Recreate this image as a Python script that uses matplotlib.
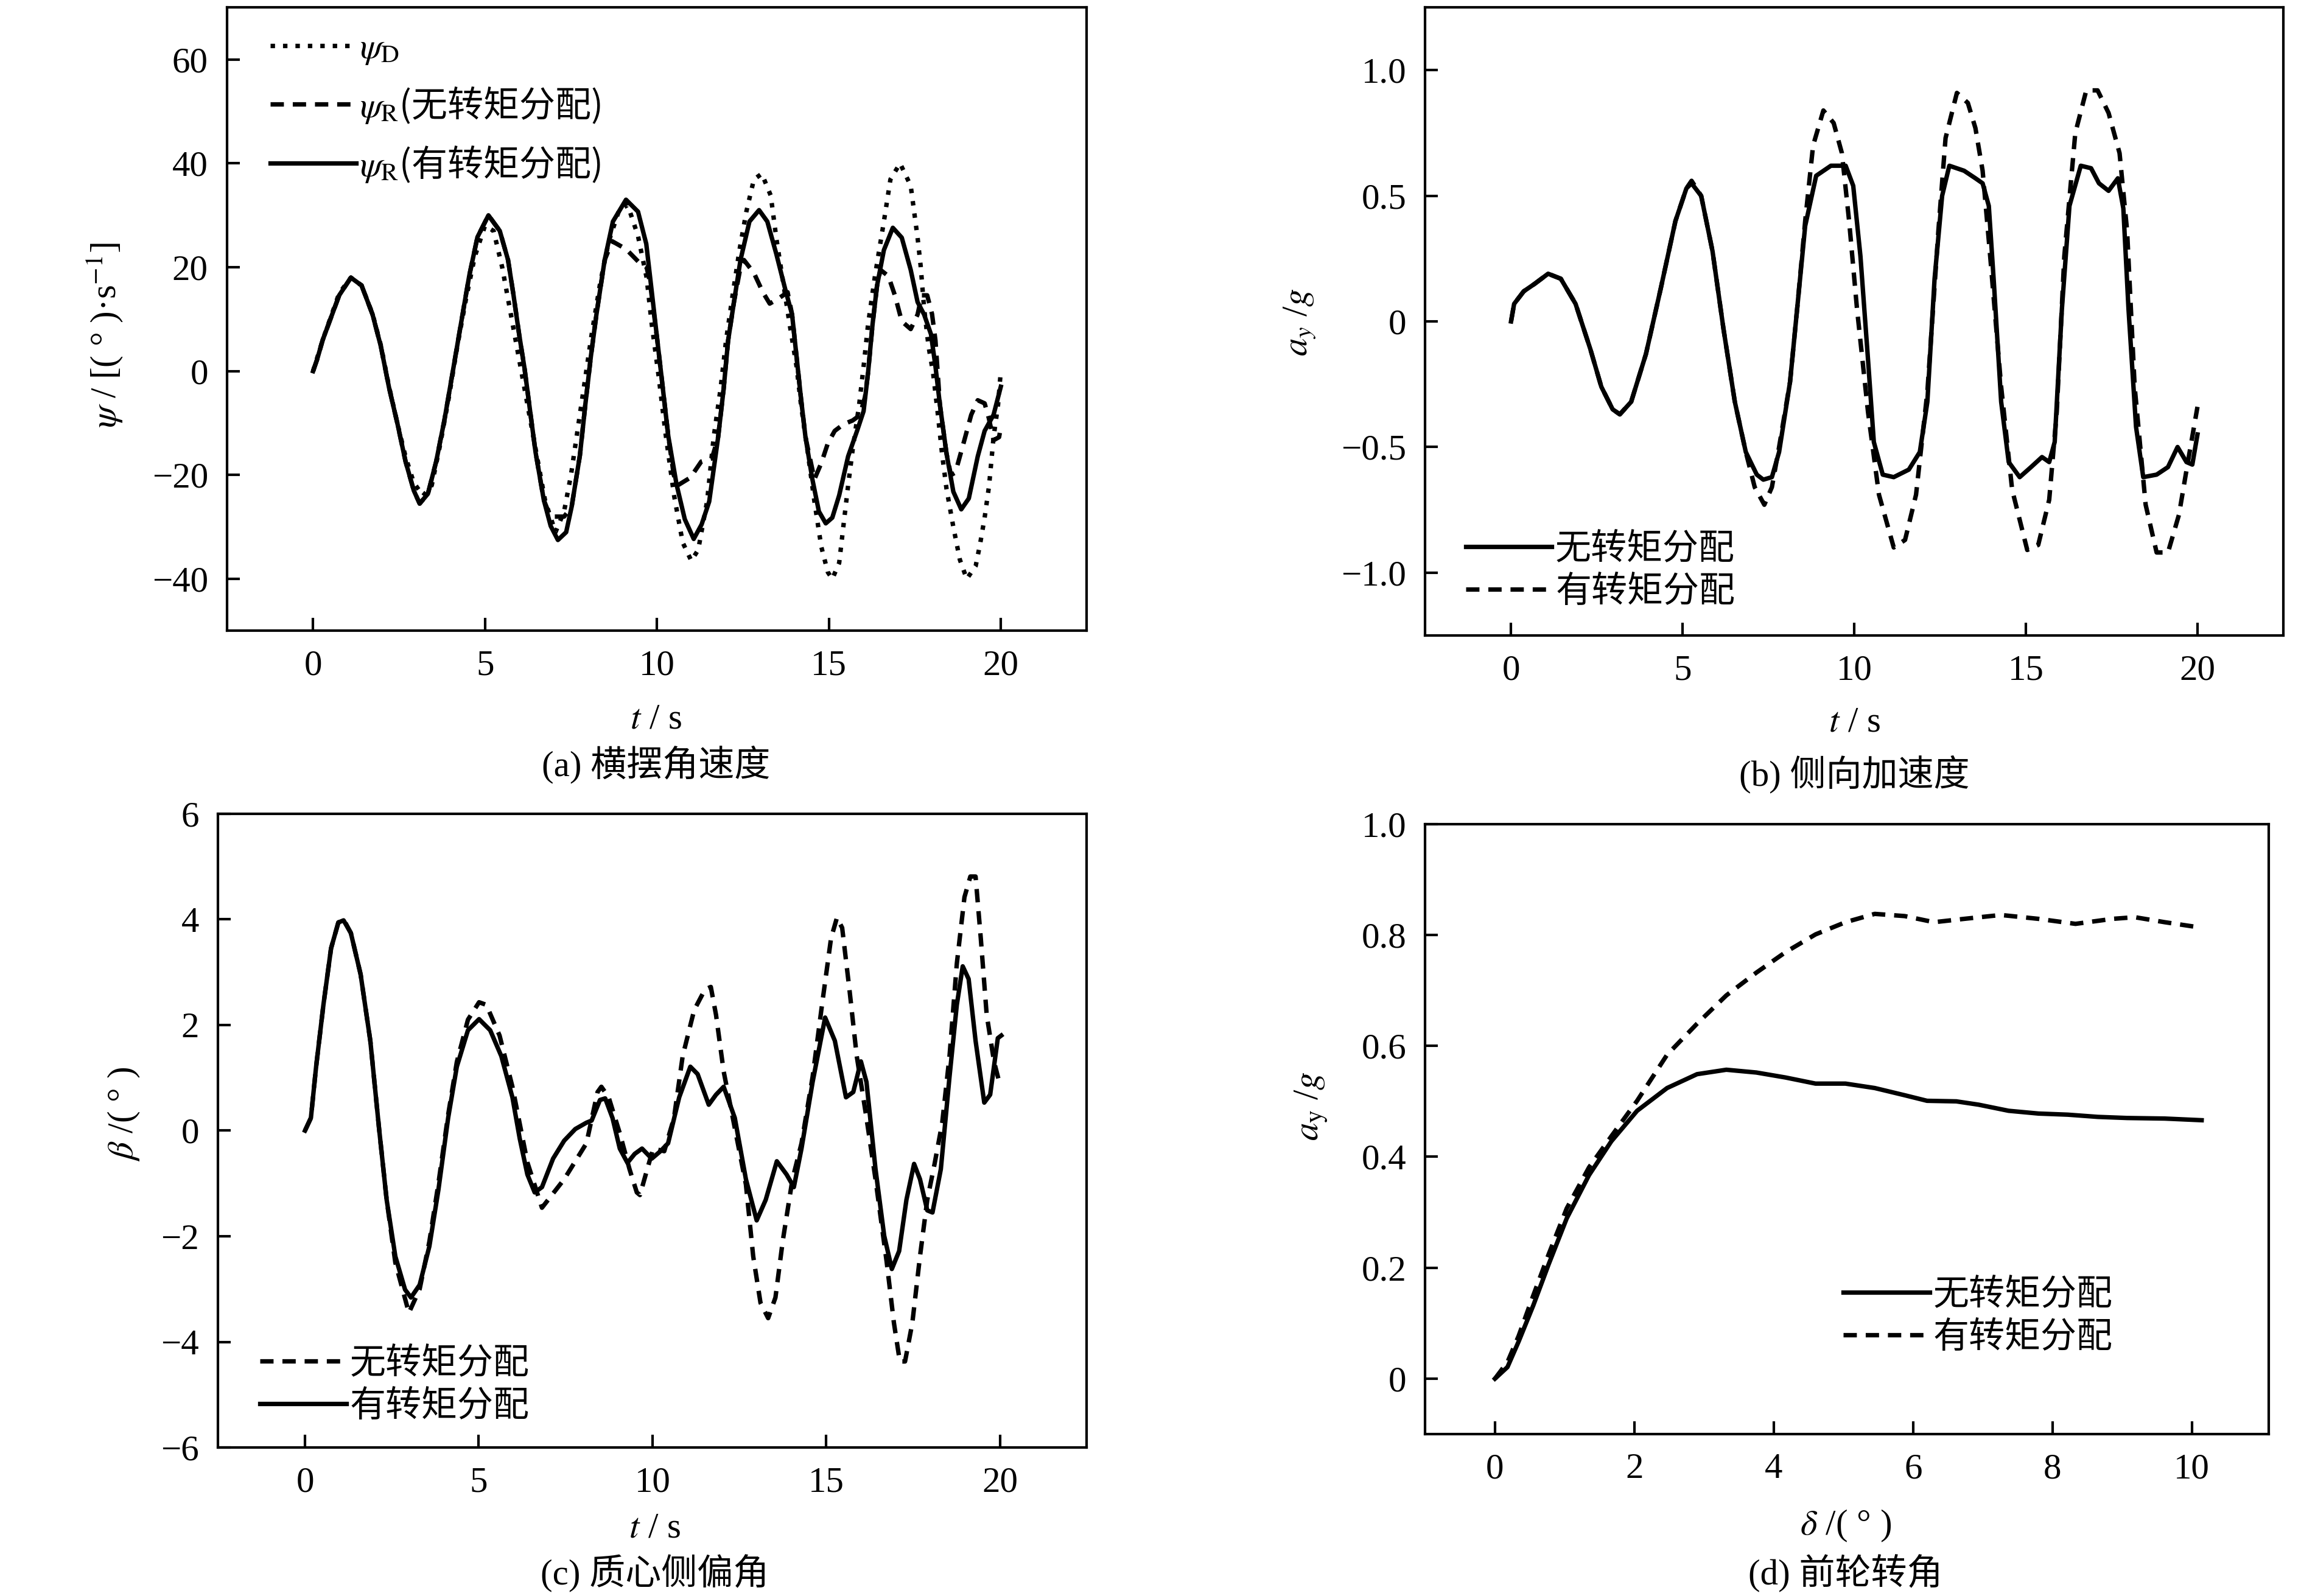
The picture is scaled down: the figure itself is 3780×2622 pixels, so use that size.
import numpy as np
import matplotlib
matplotlib.use("Agg")
import matplotlib.pyplot as plt

plt.rcParams['font.family'] = ['Liberation Serif', 'Noto Sans CJK SC']
plt.rcParams['mathtext.fontset'] = 'stix'
plt.rcParams['axes.unicode_minus'] = True

FS = 17

# ---------------- (a) 横摆角速度 ----------------
a_t_r1 = [0, 0.12, 0.28, 0.52, 0.76, 1.1, 1.41, 1.73, 1.97, 2.21, 2.45, 2.69, 2.93, 3.1, 3.34, 3.58,
          3.82, 4.06, 4.3, 4.54, 4.78, 5.1, 5.43, 5.67, 5.83, 5.99, 6.15, 6.31, 6.47, 6.71, 6.91, 7.12,
          7.36, 7.52, 7.76, 7.92, 8.08, 8.24, 8.48, 8.72, 9.1, 9.45, 9.69, 9.85, 10.01, 10.17, 10.33,
          10.57, 10.81, 11.07, 11.3, 11.52, 11.78, 11.94, 12.07, 12.24, 12.43, 12.69, 12.97, 13.21,
          13.47, 13.73, 13.93, 14.06, 14.19, 14.32, 14.52, 14.71, 14.91, 15.1, 15.3, 15.56, 15.82,
          16.01, 16.14, 16.27, 16.4, 16.6, 16.86, 17.12, 17.38, 17.58, 17.77, 17.97, 18.1, 18.23,
          18.42, 18.62, 18.85, 19.07, 19.33, 19.53, 19.79, 20.0]
a_psi_r1 = [0, 2.3, 6, 10.3, 14.6, 18, 16.5, 10.9, 4.8, -3.2, -10, -17.4, -23, -25.5, -23.6, -17.4,
            -9.4, -0.2, 9.1, 18.3, 25.8, 30, 27, 21.4, 14.6, 7.2, 0.5, -7.6, -15.6, -24.8, -29.8, -32.5,
            -31, -26.1, -16.2, -6.3, 2.9, 10.9, 21.4, 28.8, 33, 30.7, 24.5, 15.3, 6, -3.2, -12.5,
            -21.8, -28.5, -32.3, -29.5, -25.1, -12.7, -3.4, 5.9, 13.3, 21.4, 28.8, 31, 28.8,
            22.6, 15.8, 10.9, 2.8, -5.3, -12.7, -20.8, -27, -29.3, -28.2, -23.9, -16.4, -11.5,
            -7.7, -0.3, 9, 16.4, 23.3, 27.6, 25.7, 19.5, 13.3, 10.9, 7.1, 0.9, -6.5,
            -15.8, -23.2, -26.6, -24.5, -16.4, -11.5, -8.4, -3.0]

a_t_r0 = [0, 0.12, 0.28, 0.52, 0.76, 1.1, 1.41, 1.73, 1.97, 2.21, 2.45, 2.69, 2.93, 3.1, 3.34, 3.58,
          3.82, 4.06, 4.3, 4.54, 4.78, 5.1, 5.43, 5.67, 5.83, 5.99, 6.15, 6.31, 6.47, 6.71, 6.9, 7.3,
          7.52, 7.76, 7.92, 8.08, 8.24, 8.48, 8.7, 9.1, 9.5, 9.7, 9.8, 10.01, 10.17, 10.33, 10.49,
          10.6, 10.97, 11.29, 11.6, 11.78, 11.94, 12.07, 12.24, 12.43, 12.53, 12.82, 13.08, 13.28,
          13.54, 13.8, 13.93, 14.06, 14.19, 14.32, 14.58, 14.78, 14.97, 15.17, 15.43, 15.69, 15.9,
          16.05, 16.14, 16.27, 16.4, 16.5, 16.73, 16.92, 17.12, 17.38, 17.58, 17.7, 17.86, 18.0,
          18.1, 18.23, 18.42, 18.55, 18.68, 18.94, 19.14, 19.33, 19.53, 19.65, 19.79, 19.95, 20.0]
a_psi_r0 = [0, 2.3, 6, 10.3, 14.6, 18, 16.5, 10.9, 4.8, -3.2, -10, -17.4, -23, -25.5, -23.6, -17.4,
            -9.4, -0.2, 9.1, 18.3, 25.8, 30, 27, 21.4, 14.6, 7.2, 0.5, -7.6, -15.6, -24.8, -28, -28,
            -26.1, -16.2, -6.3, 2.9, 10.9, 21.4, 25, 23.5, 20.8, 20, 17, 6, -3.2, -12.5, -20,
            -22, -20.5, -17.4, -16.8, -12.7, -3.4, 5.9, 13.3, 20, 21.4, 18.9, 15.2, 13,
            14, 15.2, 10.9, 2.8, -5.3, -12.7, -20.8, -17.7, -13.9, -11.5, -10.2, -9.5, -8.5,
            -5, -0.3, 9, 16.4, 19.5, 18.3, 14.6, 9.6, 8.1, 10.9, 14.6, 14.6, 11,
            5.9, -6.5, -15.8, -20, -19.5, -13.3, -8.4, -5.6, -6.2, -9, -13.3, -12.7, -10.8]

a_t_d = [0, 0.28, 0.52, 0.76, 1.1, 1.41, 1.73, 1.97, 2.21, 2.45, 2.69, 2.93, 3.2, 3.45, 3.7, 3.95,
         4.2, 4.45, 4.7, 5.0, 5.25, 5.5, 5.75, 6.0, 6.25, 6.5, 6.75, 7.05, 7.3, 7.5, 7.7, 7.9, 8.1,
         8.35, 8.6, 8.9, 9.15, 9.45, 9.7, 9.85, 10.05, 10.25, 10.5, 10.75, 11.0, 11.2, 11.46, 11.65,
         11.85, 12.01, 12.2, 12.4, 12.6, 12.82, 13.05, 13.31, 13.47, 13.67, 13.86, 14.06, 14.19,
         14.39, 14.58, 14.78, 14.97, 15.1, 15.3, 15.43, 15.56, 15.69, 15.88, 16.01, 16.14, 16.34,
         16.6, 16.79, 17.07, 17.38, 17.58, 17.67, 17.77, 17.9, 18.03, 18.16, 18.29, 18.42, 18.62,
         18.81, 19.01, 19.27, 19.4, 19.53, 19.66, 19.79, 19.92, 20.0]
a_psi_d = [0, 6, 10.5, 15, 18, 16.5, 11, 5, -3, -10, -16.5, -21.5, -24, -22, -14, -5,
           5, 14, 22, 28, 27, 20, 11, 2, -7, -16, -25, -31, -27, -20, -11, -2, 7,
           17, 25, 31, 32, 26, 18, 9, -1, -12, -24, -33, -36.5, -34.4, -25, -12.7,
           -3.4, 5.9, 14.6, 23.3, 30.7, 36.9, 38, 33.8, 25.7, 17.1, 9, 0.9, -6.5,
           -15.8, -25.1, -33.8, -38.7, -40, -36.9, -29.4, -22, -15.2, -6.5, 0.9, 9, 18.3,
           28.8, 36.9, 40, 35.7, 25.7, 20.2, 12.1, 4.7, -0.3, -7.7, -15.8, -22.6, -30,
           -36.3, -40, -37.5, -33.2, -28.2, -22, -12.7, -6.5, 0]

# ---------------- (b) 侧向加速度 ----------------
b_t_1 = [0, 0.09, 0.37, 0.69, 1.08, 1.45, 1.88, 2.31, 2.63, 2.96, 3.17, 3.5, 3.93, 4.36, 4.79, 5.11,
         5.26, 5.54, 5.87, 6.19, 6.52, 6.84, 7.16, 7.35, 7.6, 7.81, 8.13, 8.35, 8.57, 8.89, 9.32, 9.75,
         9.97, 10.18, 10.4, 10.57, 10.83, 11.15, 11.59, 11.91, 12.13, 12.34, 12.56, 12.77, 13.2, 13.53,
         13.74, 13.92, 14.07, 14.28, 14.5, 14.82, 15.15, 15.47, 15.68, 15.84, 16.05, 16.27, 16.6, 16.9,
         17.13, 17.41, 17.68, 17.84, 17.99, 18.21, 18.42, 18.81, 19.14, 19.42, 19.68, 19.85, 20.0]
b_ay_1 = [0, 0.07, 0.12, 0.15, 0.19, 0.17, 0.07, -0.11, -0.26, -0.35, -0.37, -0.32, -0.13, 0.13, 0.4, 0.53,
          0.55, 0.5, 0.28, -0.03, -0.32, -0.52, -0.61, -0.63, -0.62, -0.52, -0.24, 0.07, 0.38, 0.58, 0.62, 0.62,
          0.54, 0.26, -0.15, -0.48, -0.61, -0.62, -0.59, -0.52, -0.32, 0.17, 0.5, 0.62, 0.6, 0.57,
          0.55, 0.46, 0.15, -0.32, -0.56, -0.62, -0.58, -0.54, -0.56, -0.48, 0.05, 0.46, 0.62, 0.61,
          0.55, 0.52, 0.57, 0.45, 0.05, -0.42, -0.62, -0.61, -0.58, -0.5, -0.56, -0.57, -0.45]

b_t_2 = [0, 0.09, 0.37, 0.69, 1.08, 1.45, 1.88, 2.31, 2.63, 2.96, 3.17, 3.5, 3.93, 4.36, 4.79, 5.11,
         5.26, 5.54, 5.87, 6.19, 6.52, 6.84, 7.1, 7.38, 7.6, 7.81, 8.13, 8.35, 8.57, 8.8, 9.1, 9.4,
         9.64, 9.85, 10.08, 10.4, 10.72, 11.15, 11.48, 11.8, 12.13, 12.45, 12.66, 12.99, 13.31, 13.53,
         13.74, 13.96, 14.28, 14.6, 15.04, 15.36, 15.68, 15.9, 16.12, 16.44, 16.76, 17.09, 17.41, 17.73,
         17.95, 18.17, 18.49, 18.81, 19.14, 19.46, 19.72, 20.0]
b_ay_2 = [0, 0.07, 0.12, 0.15, 0.19, 0.17, 0.07, -0.11, -0.26, -0.35, -0.37, -0.32, -0.13, 0.13, 0.4, 0.53,
          0.56, 0.5, 0.28, -0.03, -0.32, -0.52, -0.66, -0.73, -0.66, -0.5, -0.24, 0.07, 0.4, 0.7, 0.84, 0.79,
          0.67, 0.4, 0.05, -0.36, -0.69, -0.9, -0.87, -0.69, -0.28, 0.36, 0.73, 0.91, 0.87, 0.77,
          0.6, 0.26, -0.26, -0.67, -0.91, -0.89, -0.71, -0.36, 0.26, 0.75, 0.92, 0.92, 0.83, 0.67,
          0.36, -0.26, -0.73, -0.92, -0.92, -0.77, -0.56, -0.34]

# ---------------- (c) 质心侧偏角 ----------------
c_t_1 = [0, 0.17, 0.32, 0.53, 0.75, 0.96, 1.11, 1.32, 1.6, 1.88, 2.13, 2.35, 2.6, 2.88, 3.05, 3.3,
         3.58, 3.84, 4.12, 4.37, 4.69, 5.01, 5.33, 5.65, 5.97, 6.18, 6.4, 6.61, 6.82, 7.14, 7.46, 7.78,
         8.1, 8.25, 8.49, 8.64, 8.85, 9.06, 9.28, 9.49, 9.7, 9.98, 10.23, 10.45, 10.77, 11.09, 11.3,
         11.62, 11.83, 12.05, 12.37, 12.69, 13.0, 13.26, 13.58, 13.86, 14.07, 14.29, 14.61, 14.97,
         15.25, 15.57, 15.78, 16.0, 16.16, 16.42, 16.67, 16.89, 17.1, 17.31, 17.53, 17.7, 17.91,
         18.06, 18.3, 18.55, 18.76, 18.93, 19.1, 19.3, 19.55, 19.72, 19.94, 20.04]
c_beta_1 = [0, 0.24, 1.21, 2.38, 3.45, 3.94, 3.98, 3.74, 2.96, 1.7, 0.05, -1.31, -2.38, -3.01, -3.16, -2.92,
            -2.19, -1.12, 0.24, 1.21, 1.9, 2.11, 1.9, 1.41, 0.63, -0.15, -0.83, -1.17, -1.07, -0.53, -0.19, 0.03,
            0.15, 0.19, 0.58, 0.61, 0.24, -0.34, -0.61, -0.44, -0.34, -0.53, -0.39, -0.24, 0.63, 1.21, 1.07,
            0.49, 0.68, 0.83, 0.24, -0.92, -1.7, -1.31, -0.58, -0.83, -1.07, -0.34, 0.92, 2.14,
            1.7, 0.63, 0.73, 1.31, 0.92, -0.73, -1.99, -2.62, -2.28, -1.31, -0.63, -0.92, -1.51,
            -1.55, -0.73, 1.02, 2.38, 3.11, 2.87, 1.7, 0.53, 0.68, 1.75, 1.8]

c_t_0 = [0, 0.17, 0.32, 0.53, 0.75, 0.96, 1.11, 1.32, 1.6, 1.88, 2.13, 2.35, 2.6, 2.99, 3.3,
         3.58, 3.84, 4.12, 4.37, 4.69, 5.01, 5.22, 5.6, 5.97, 6.4, 6.82, 7.46, 8.1, 8.42, 8.53, 8.74,
         9.06, 9.34, 9.55, 9.64, 9.85, 10.02, 10.34, 10.62, 10.87, 11.2, 11.51, 11.68, 11.83, 12.05,
         12.37, 12.69, 12.9, 13.11, 13.33, 13.54, 13.75, 14.03, 14.29, 14.61, 14.88, 15.14, 15.31,
         15.46, 15.67, 15.88, 16.16, 16.42, 16.74, 16.95, 17.12, 17.27, 17.48, 17.7, 17.91, 18.12,
         18.34, 18.55, 18.76, 18.98, 19.15, 19.3, 19.45, 19.62, 19.83, 20.0]
c_beta_0 = [0, 0.24, 1.21, 2.38, 3.45, 3.94, 4.0, 3.74, 2.96, 1.7, 0.05, -1.31, -2.5, -3.45, -3.0,
            -2.1, -1.0, 0.3, 1.3, 2.1, 2.43, 2.38, 1.8, 0.83, -0.6, -1.46, -0.92, -0.24, 0.73, 0.83, 0.63,
            -0.05, -0.73, -1.17, -1.22, -0.73, -0.34, -0.39, 0.24, 1.41, 2.28, 2.67, 2.72, 2.19, 1.12,
            0.05, -1.02, -2.38, -3.26, -3.55, -3.16, -2.09, -0.92, -0.24, 1.02, 2.38, 3.64, 4.03,
            3.84, 2.67, 1.41, 0.24, -0.92, -2.48, -3.64, -4.37, -4.37, -3.64, -2.38, -1.31, -0.63,
            0.15, 1.41, 3.16, 4.42, 4.81, 4.81, 3.64, 2.19, 1.31, 0.87]

# ---------------- (d) 前轮转角 ----------------
d_delta_1 = [0, 0.18, 0.34, 0.55, 0.77, 1.03, 1.35, 1.67, 2.04, 2.47, 2.9, 3.32, 3.75, 4.17, 4.6,
             5.03, 5.45, 5.88, 6.2, 6.62, 6.94, 7.37, 7.8, 8.22, 8.65, 9.07, 9.61, 10.14]
d_ay_1 = [0, 0.021, 0.067, 0.132, 0.206, 0.289, 0.367, 0.428, 0.483, 0.524, 0.549, 0.557, 0.552, 0.543, 0.532,
          0.532, 0.524, 0.511, 0.501, 0.5, 0.494, 0.483, 0.478, 0.476, 0.472, 0.47, 0.469, 0.466]
d_delta_2 = [0, 0.18, 0.34, 0.55, 0.77, 1.03, 1.35, 1.67, 2.04, 2.47, 2.9, 3.32, 3.75, 4.17, 4.6,
             5.03, 5.45, 5.88, 6.3, 6.73, 7.26, 7.8, 8.33, 8.86, 9.18, 9.61, 10.14]
d_ay_2 = [0, 0.03, 0.077, 0.15, 0.224, 0.307, 0.381, 0.437, 0.501, 0.584, 0.64, 0.691, 0.732, 0.769, 0.801,
          0.823, 0.838, 0.834, 0.823, 0.829, 0.836, 0.829, 0.82, 0.829, 0.832, 0.823, 0.813]

LW = 2.1
DASH = (0, (3, 2))
DOT = (0, (1, 1.8))


def style(ax):
    for s in ax.spines.values():
        s.set_linewidth(1.2)
    ax.tick_params(direction='in', length=6, width=1.2, labelsize=FS, pad=9,
                   top=False, right=False)


def leg(ax, loc, anchor, spacing=0.25, **kw):
    ax.legend(loc=loc, bbox_to_anchor=anchor, frameon=False, handlelength=2.4,
              handletextpad=0.1, labelspacing=spacing, borderaxespad=0, borderpad=0,
              **kw)


fig = plt.figure(figsize=(15.12, 10.488), dpi=250)

# (a)
ax = fig.add_axes([0.0987, 0.6047, 0.3736, 0.3906])
ax.plot(a_t_d, a_psi_d, color='black', lw=LW, linestyle=DOT, label=r'$\psi_{\mathrm{D}}$')
ax.plot(a_t_r0, a_psi_r0, color='black', lw=LW, linestyle=DASH, label=r'$\psi_{\mathrm{R}}$(无转矩分配)')
ax.plot(a_t_r1, a_psi_r1, color='black', lw=LW, label=r'$\psi_{\mathrm{R}}$(有转矩分配)')
ax.set_xlim(-2.5, 22.5)
ax.set_ylim(-50, 70)
ax.set_xticks([0, 5, 10, 15, 20])
ax.set_yticks([-40, -20, 0, 20, 40, 60])
style(ax)
leg(ax, 'upper left', (0.05, 0.965), spacing=0.52,
    prop={'family': 'Noto Sans CJK SC', 'size': FS})
fig.text(0.046, 0.79, r'$\psi$ / [( ° )·s$^{-1}$]', rotation=90, ha='center', va='center', fontsize=FS)
fig.text(0.285, 0.549, r'$t$ / s', ha='center', va='center', fontsize=FS)
fig.text(0.285, 0.521, '(a) 横摆角速度', ha='center', va='center', fontsize=FS)

# (b)
ax = fig.add_axes([0.6194, 0.6019, 0.3729, 0.3934])
ax.plot(b_t_1, b_ay_1, color='black', lw=LW, label='无转矩分配')
ax.plot(b_t_2, b_ay_2, color='black', lw=LW, linestyle=DASH, label='有转矩分配')
ax.set_xlim(-2.5, 22.5)
ax.set_ylim(-1.25, 1.25)
ax.set_xticks([0, 5, 10, 15, 20])
ax.set_yticks([-1.0, -0.5, 0, 0.5, 1.0])
ax.set_yticklabels(['\u22121.0', '\u22120.5', '0', '0.5', '1.0'])
style(ax)
leg(ax, 'lower left', (0.047, 0.041), fontsize=FS)
fig.text(0.565, 0.798, r'$a_y$ /$g$', rotation=90, ha='center', va='center', fontsize=FS)
fig.text(0.806, 0.547, r'$t$ / s', ha='center', va='center', fontsize=FS)
fig.text(0.806, 0.515, '(b) 侧向加速度', ha='center', va='center', fontsize=FS)

# (c)
ax = fig.add_axes([0.0948, 0.0930, 0.3775, 0.3972])
ax.plot(c_t_0, c_beta_0, color='black', lw=LW, linestyle=DASH, label='无转矩分配')
ax.plot(c_t_1, c_beta_1, color='black', lw=LW, label='有转矩分配')
ax.set_xlim(-2.5, 22.5)
ax.set_ylim(-6, 6)
ax.set_xticks([0, 5, 10, 15, 20])
ax.set_yticks([-6, -4, -2, 0, 2, 4, 6])
style(ax)
leg(ax, 'lower left', (0.048, 0.037), fontsize=FS)
fig.text(0.054, 0.302, r'$\beta$ /( ° )', rotation=90, ha='center', va='center', fontsize=FS)
fig.text(0.2845, 0.042, r'$t$ / s', ha='center', va='center', fontsize=FS)
fig.text(0.2845, 0.014, '(c) 质心侧偏角', ha='center', va='center', fontsize=FS)

# (d)
ax = fig.add_axes([0.6194, 0.1014, 0.3665, 0.3823])
ax.plot(d_delta_1, d_ay_1, color='black', lw=LW, label='无转矩分配')
ax.plot(d_delta_2, d_ay_2, color='black', lw=LW, linestyle=DASH, label='有转矩分配')
ax.set_xlim(-1.0, 11.1)
ax.set_ylim(-0.1, 1.0)
ax.set_xticks([0, 2, 4, 6, 8, 10])
ax.set_yticks([0, 0.2, 0.4, 0.6, 0.8, 1.0])
ax.set_yticklabels(['0', '0.2', '0.4', '0.6', '0.8', '1.0'])
style(ax)
leg(ax, 'lower left', (0.496, 0.129), fontsize=FS)
fig.text(0.570, 0.307, r'$a_{\mathrm{y}}$ /$g$', rotation=90, ha='center', va='center', fontsize=FS)
fig.text(0.802, 0.044, r'$\delta$ /( ° )', ha='center', va='center', fontsize=FS)
fig.text(0.802, 0.014, '(d) 前轮转角', ha='center', va='center', fontsize=FS)

fig.savefig('out.png', dpi=250)
